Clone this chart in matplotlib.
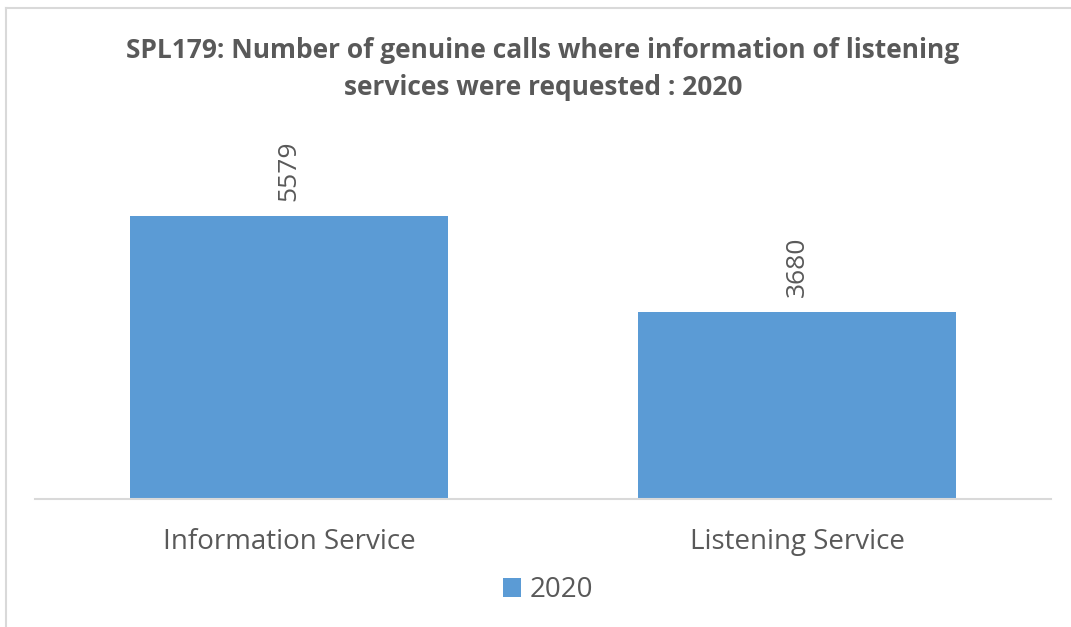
import matplotlib.pyplot as plt
from matplotlib.lines import Line2D

categories = ['Information Service', 'Listening Service']
values = [5579, 3680]
series_name = '2020'
title = "SPL179: Number of genuine calls where information of listening\nservices were requested : 2020"

bar_color = '#5B9BD5'
text_color = '#595959'

plt.rcParams['font.family'] = ['Open Sans', 'DejaVu Sans']

fig = plt.figure(figsize=(10.71, 6.27), dpi=100)
ax = fig.add_axes([35 / 1071, 1 - 499 / 627, 1016 / 1071, 360 / 627])

x = range(len(categories))
bars = ax.bar(x, values, width=0.626, color=bar_color, label=series_name, zorder=2)
ax.set_xlim(-0.5, 1.5)
ax.set_ylim(0, 360 / (283 / 5579))

for b, v in zip(bars, values):
    ax.annotate(str(v), (b.get_x() + b.get_width() / 2, v), xytext=(0, 11),
                textcoords='offset points', rotation=90, ha='center', va='bottom',
                fontsize=19, color=text_color)

ax.set_xticks(list(x))
ax.set_xticklabels(categories, fontsize=20, color=text_color)
ax.tick_params(axis='x', length=0, pad=21)
ax.set_yticks([])
for s in ['top', 'right', 'left']:
    ax.spines[s].set_visible(False)
ax.spines['bottom'].set_color('#D9D9D9')
ax.spines['bottom'].set_linewidth(1.5)

fig.text(543 / 1071, 1 - 69 / 627, title, ha='center', va='center', fontsize=19,
         fontweight='bold', color=text_color, linespacing=1.5)

leg = fig.legend(loc='center', bbox_to_anchor=(548 / 1071, 1 - 590 / 627), frameon=False,
                 fontsize=20, handlelength=0.65, handleheight=0.65, handletextpad=0.3)
for t in leg.get_texts():
    t.set_color(text_color)

# chart border (only top and left visible in reference)
fig.add_artist(Line2D([6 / 1071, 6 / 1071], [0, 1 - 8 / 627], transform=fig.transFigure,
                      color='#D9D9D9', lw=1.5))
fig.add_artist(Line2D([6 / 1071, 1], [1 - 8 / 627, 1 - 8 / 627], transform=fig.transFigure,
                      color='#D9D9D9', lw=1.5))

plt.savefig('out.png', dpi=100)
